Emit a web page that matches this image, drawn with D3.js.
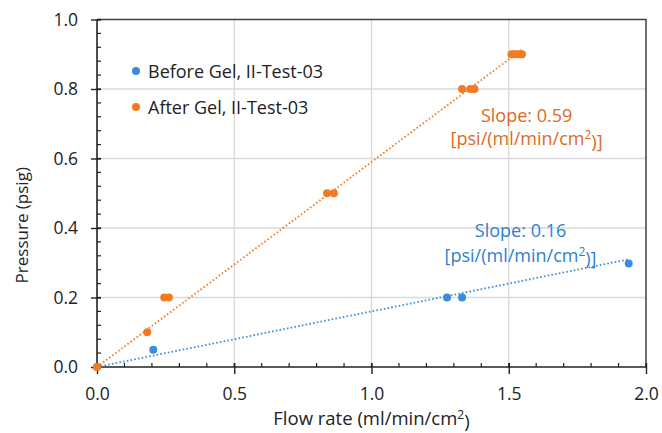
<!DOCTYPE html>
<html>
<head>
<meta charset="utf-8">
<script src="https://cdn.jsdelivr.net/npm/d3@7"></script>
<style>
  body { margin: 0; background: #fff; }
  text { font-family: "Open Sans", sans-serif; }
</style>
</head>
<body>
<div id="chart"></div>
<script>
//
// data
//
var beforeX = [0, 0.205, 1.275, 1.33, 1.937];
var beforeY = [0, 0.05, 0.2, 0.2, 0.298];
var afterX = [0, 0.183, 0.245, 0.262, 0.838, 0.863, 1.33, 1.36, 1.375, 1.51, 1.52, 1.53, 1.54, 1.548];
var afterY = [0, 0.1, 0.2, 0.2, 0.5, 0.5, 0.8, 0.8, 0.8, 0.9, 0.9, 0.9, 0.9, 0.9];
var slopes = [0.16, 0.59];
var seriesNames = ["Before Gel, II-Test-03", "After Gel, II-Test-03"];
var xTicks = [0, 0.5, 1.0, 1.5, 2.0];
var yTicks = [0, 0.2, 0.4, 0.6, 0.8, 1.0];

var W = 662, H = 433;
var margin = {top: 19.5, right: 16, bottom: 66, left: 97};
var width = W - margin.left - margin.right;
var height = H - margin.top - margin.bottom;

var markerColor = ["#3A8DDB", "#F27B22"];
var textColor = ["#2F7FD0", "#DE6A1E"];
var fs = "18px";

var svg = d3.select("#chart").append("svg")
	.attr("width", W)
	.attr("height", H)
	.append("g")
	.attr("transform", "translate(" + margin.left + "," + margin.top + ")");

var x = d3.scaleLinear().domain([0, 2]).range([0, width]);
var y = d3.scaleLinear().domain([0, 1]).range([height, 0]);

//
// grid
//
svg.append("g").selectAll("line")
	.data(xTicks.slice(1, -1))
	.enter().append("line")
	.attr("x1", function(d) { return x(d); })
	.attr("x2", function(d) { return x(d); })
	.attr("y1", 0).attr("y2", height)
	.style("stroke", "#d9d9d9").style("stroke-width", 1.3);

svg.append("g").selectAll("line")
	.data(yTicks.slice(1, -1))
	.enter().append("line")
	.attr("y1", function(d) { return y(d); })
	.attr("y2", function(d) { return y(d); })
	.attr("x1", 0).attr("x2", width)
	.style("stroke", "#d9d9d9").style("stroke-width", 1.3);

// top and right border
svg.append("path")
	.attr("d", "M0,0H" + width + "V" + height)
	.style("fill", "none")
	.style("stroke", "#404040")
	.style("stroke-width", 1.5);

//
// minor ticks (inside)
//
svg.append("g").selectAll("line")
	.data(d3.range(0, 21).map(function(i) { return i / 10; }))
	.enter().append("line")
	.attr("x1", function(d) { return x(d); })
	.attr("x2", function(d) { return x(d); })
	.attr("y1", height - 4).attr("y2", height)
	.style("stroke", "#222").style("stroke-width", 1.2);

svg.append("g").selectAll("line")
	.data(d3.range(0, 26).map(function(i) { return i * 0.04; }))
	.enter().append("line")
	.attr("y1", function(d) { return y(d); })
	.attr("y2", function(d) { return y(d); })
	.attr("x1", 0).attr("x2", 4)
	.style("stroke", "#222").style("stroke-width", 1.2);

//
// axes
//
var axisX = svg.append("g")
	.attr("transform", "translate(0," + height + ")")
	.call(d3.axisBottom(x).tickValues(xTicks).tickFormat(d3.format(".1f")).tickSize(7).tickPadding(14));
axisX.selectAll("line").attr("y1", -4).style("stroke", "#222").style("stroke-width", 1.4);
axisX.select(".domain").attr("d", "M0,0H" + width).style("stroke", "#222").style("stroke-width", 1.6);
axisX.selectAll("text").style("font-size", "17.5px").style("fill", "#222").style("font-family", "Open Sans");

var axisY = svg.append("g")
	.call(d3.axisLeft(y).tickValues(yTicks).tickFormat(d3.format(".1f")).tickSize(6).tickPadding(13));
axisY.selectAll("line").attr("x1", 4).style("stroke", "#222").style("stroke-width", 1.4);
axisY.select(".domain").attr("d", "M0," + height + "V0").style("stroke", "#222").style("stroke-width", 1.6);
axisY.selectAll("text").style("font-size", "17.5px").style("fill", "#222").style("font-family", "Open Sans");

// axis titles
var xTitle = svg.append("text")
	.attr("x", x(1))
	.attr("y", height + 58)
	.attr("text-anchor", "middle")
	.style("font-size", "18.5px")
	.style("fill", "#222");
xTitle.append("tspan").text("Flow rate (ml/min/cm");
xTitle.append("tspan").attr("dy", "-0.5em").style("font-size", "12px").text("2");
xTitle.append("tspan").attr("dy", "0.5em").text(")");

svg.append("text")
	.attr("transform", "translate(-69," + (height / 2 + 32) + ") rotate(-90)")
	.attr("text-anchor", "middle")
	.style("font-size", "17px")
	.style("fill", "#222")
	.text("Pressure (psig)");

//
// trendlines through origin
//
var seriesX = [beforeX, afterX];
var seriesY = [beforeY, afterY];

[0, 1].forEach(function(s) {
	var xmax = d3.max(seriesX[s]);
	svg.append("line")
		.attr("x1", x(0)).attr("y1", y(0))
		.attr("x2", x(xmax)).attr("y2", y(slopes[s] * xmax))
		.style("stroke", markerColor[s])
		.style("stroke-width", 1.8)
		.style("stroke-dasharray", "1.6,2.2");
});

//
// points
//
[0, 1].forEach(function(s) {
	svg.append("g").selectAll("circle")
		.data(seriesX[s].map(function(d, i) { return [d, seriesY[s][i]]; }))
		.enter().append("circle")
		.attr("cx", function(d) { return x(d[0]); })
		.attr("cy", function(d) { return y(d[1]); })
		.attr("r", 4)
		.style("fill", markerColor[s]);
});

//
// slope labels
//
var labelPos = [[1.543, 0.374, 0.303], [1.565, 0.705, 0.639]];
[0, 1].forEach(function(s) {
	svg.append("text")
		.attr("x", x(labelPos[s][0]))
		.attr("y", y(labelPos[s][1]))
		.attr("text-anchor", "middle")
		.style("font-size", fs)
		.style("fill", textColor[s])
		.text("Slope: " + slopes[s].toFixed(2));
	var t = svg.append("text")
		.attr("x", x(labelPos[s][0]))
		.attr("y", y(labelPos[s][2]))
		.attr("text-anchor", "middle")
		.style("font-size", fs)
		.style("fill", textColor[s]);
	t.append("tspan").text("[psi/(ml/min/cm");
	t.append("tspan").attr("dy", "-0.5em").style("font-size", "12px").text("2");
	t.append("tspan").attr("dy", "0.5em").text(")]");
});

//
// legend
//
var legend = svg.selectAll(".legend")
	.data(seriesNames)
	.enter().append("g")
	.attr("class", "legend")
	.attr("transform", function(d, i) { return "translate(39," + (51.5 + i * 36) + ")"; });

legend.append("circle")
	.attr("r", 4)
	.style("fill", function(d, i) { return markerColor[i]; });

legend.append("text")
	.attr("x", 12)
	.attr("y", 6.8)
	.style("font-size", fs)
	.style("fill", "#222")
	.text(function(d) { return d; });
</script>
</body>
</html>
